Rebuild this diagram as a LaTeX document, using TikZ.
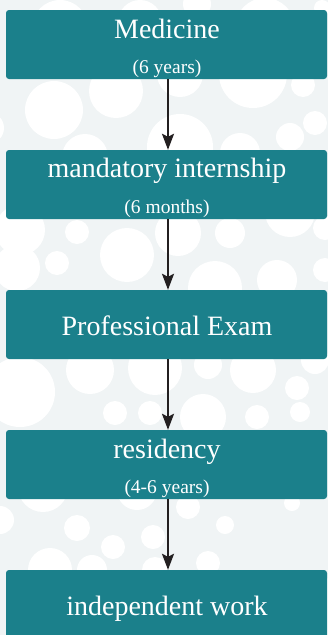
\documentclass[tikz,border=0pt]{standalone}
\usepackage{fontspec}
\setmainfont{Liberation Serif}
\usetikzlibrary{arrows.meta}
\definecolor{boxteal}{HTML}{1B808B}
\definecolor{bggray}{HTML}{F0F4F5}
\definecolor{arrowdark}{HTML}{231F20}
\begin{document}
\begin{tikzpicture}[x=1pt,y=-1pt,
  stagebox/.style={fill=boxteal, rounded corners=3pt, minimum width=321pt, minimum height=69pt, inner sep=0pt, draw=none},
  maintext/.style={text=white, font=\fontsize{28}{30}\selectfont, anchor=base, inner sep=0pt},
  subtext/.style={text=white, font=\fontsize{19.5}{22}\selectfont, anchor=base, inner sep=0pt},
  flow/.style={draw=arrowdark, line width=2pt, -{Stealth[length=16pt,width=12pt,inset=3pt]}},
  bubble/.style={fill=white}]
\useasboundingbox (0,0) rectangle (328,635);
\fill[bggray] (0,0) rectangle (328,635);
\begin{scope}
\clip (0,0) rectangle (328,635);
\foreach \cx/\cy/\r in {
  60/28/28, 140/22/22, 197/4/14, 265/28/30, 322/8/8,
  54/110/29, 116/91/27, 180/74/23, 253/74/34, 303/85/12, 315/123/12, 290/137/14,
  180/147/33, 85/157/23, 240/153/20, -12/128/16,
  20/230/25, 77/232/12, 127/255/27, 178/233/23, 230/233/15, 290/212/25, 325/228/12,
  17/268/23, 57/263/12, 215/288/27, 277/280/20, 325/270/12,
  20/392/35, 90/370/24, 155/368/27, 208/365/14, 253/370/23, 315/360/14, 297/388/12,
  115/413/12, 150/413/12, 203/417/23, 257/417/12, 300/412/10,
  43/487/25, 137/490/20, 0/520/14, 77/528/13, 113/547/12, 153/537/12, 188/507/12,
  225/525/9, 292/503/8, 50/570/22, 92/570/15, 155/570/13, 208/563/12, 375/615/60}
  \fill[bubble] (\cx,\cy) circle[radius=\r pt];
\end{scope}

\node[stagebox] (med) at (166.5,44.5) {};
\node[stagebox] (intern) at (166.5,184.5) {};
\node[stagebox] (exam) at (166.5,324.5) {};
\node[stagebox] (resid) at (166.5,464.5) {};
\node[stagebox] (indep) at (166.5,604.5) {};

\node[maintext] (medt) at (167,38) {Medicine};
\node[subtext] (meds) at (167,73.5) {(6 years)};
\node[maintext] (internt) at (167,177) {mandatory internship};
\node[subtext] (interns) at (167,213) {(6 months)};
\node[maintext] (examt) at (167,335) {Professional Exam};
\node[maintext] (residt) at (167,458) {residency};
\node[subtext] (resids) at (167,493.5) {(4-6 years)};
\node[maintext] (indept) at (167,615) {independent work};

\draw[flow] ([xshift=1.5pt]med.south) -- ([xshift=1.5pt]intern.north);
\draw[flow] ([xshift=1.5pt]intern.south) -- ([xshift=1.5pt]exam.north);
\draw[flow] ([xshift=1.5pt]exam.south) -- ([xshift=1.5pt]resid.north);
\draw[flow] ([xshift=1.5pt]resid.south) -- ([xshift=1.5pt]indep.north);
\end{tikzpicture}
\end{document}
